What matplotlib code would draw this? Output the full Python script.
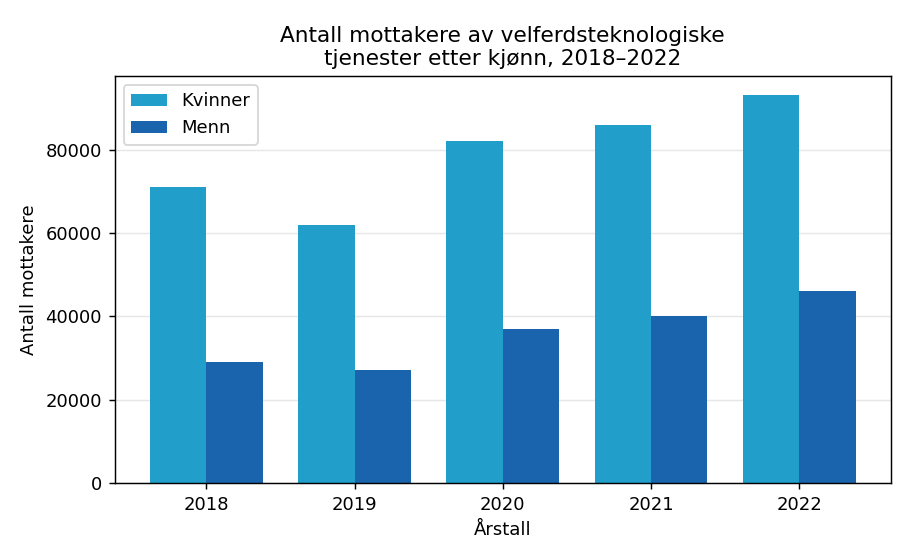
import numpy as np
import matplotlib.pyplot as plt

years = ['2018', '2019', '2020', '2021', '2022']
kvinner = [71000, 62000, 82000, 86000, 93000]
menn = [29000, 27000, 37000, 40000, 46000]

x = np.arange(len(years))
width = 0.38

fig, ax = plt.subplots(figsize=(7, 4.3), dpi=130)
ax.bar(x - width / 2, kvinner, width, label='Kvinner', color='#219fca')
ax.bar(x + width / 2, menn, width, label='Menn', color='#1a64ad')

ax.set_xticks(x)
ax.set_xticklabels(years)
ax.set_xlabel('Årstall')
ax.set_ylabel('Antall mottakere')
ax.set_title('Antall mottakere av velferdsteknologiske\ntjenester etter kjønn, 2018–2022')
ax.grid(axis='y', alpha=0.3)
ax.set_axisbelow(True)
ax.legend(loc='upper left')

fig.subplots_adjust(left=0.126, right=0.979, top=0.864, bottom=0.136)
fig.savefig('out.png', dpi=130)
